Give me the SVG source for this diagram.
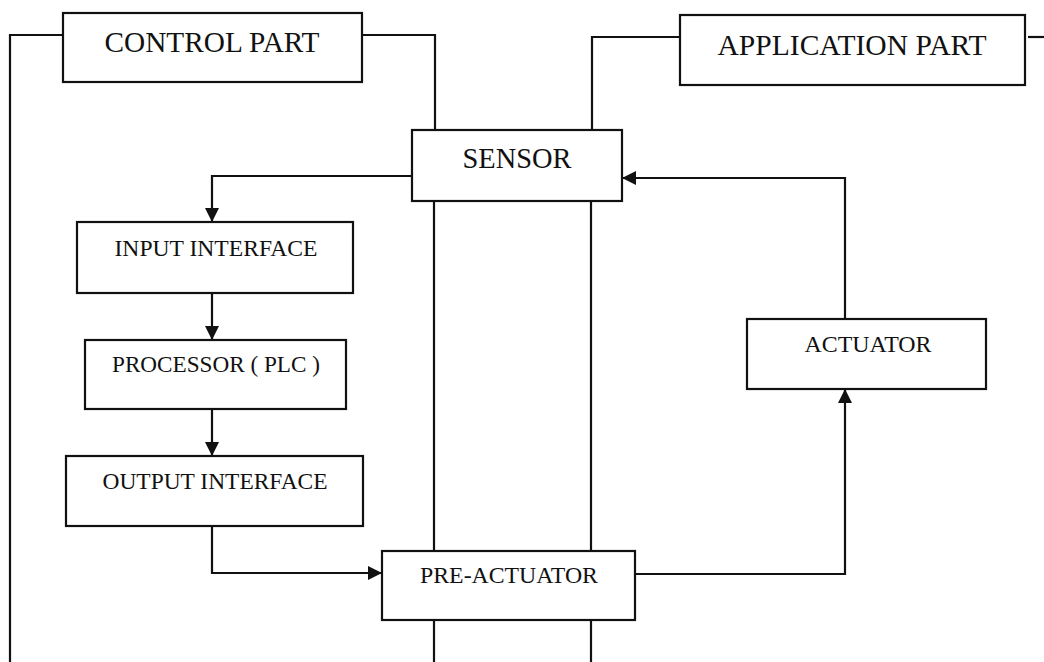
<svg xmlns="http://www.w3.org/2000/svg" width="1044" height="662" viewBox="0 0 1044 662">
  <defs>
    <marker id="arr" viewBox="0 0 12 12" refX="12" refY="6" markerWidth="15" markerHeight="14" markerUnits="userSpaceOnUse" orient="auto">
      <path d="M0,0 L12,6 L0,12 Z" fill="#111"/>
    </marker>
    <style>
      .box { fill: #fff; stroke: #111; stroke-width: 2.2; }
      .ln { fill: none; stroke: #111; stroke-width: 2.2; }
      .big { font-family: "Liberation Serif", "Times New Roman", serif; font-size: 30px; fill: #111; text-anchor: middle; }
      .sm { font-family: "Liberation Serif", "Times New Roman", serif; font-size: 23px; fill: #111; text-anchor: middle; }
    </style>
  </defs>
  <rect width="1044" height="662" fill="#fff"/>

  <g id="connectors">
    <path class="ln" d="M63,35 H10 V662"/>
    <path class="ln" d="M362,35 H435 V130"/>
    <path class="ln" d="M680,37 H592 V130"/>
    <path class="ln" d="M1028,37 H1044"/>
    <path class="ln" d="M434,201 V551"/>
    <path class="ln" d="M591,201 V551"/>
    <path class="ln" d="M434,620 V662"/>
    <path class="ln" d="M591,620 V662"/>
    <path class="ln" d="M412,176 H212 V222" marker-end="url(#arr)"/>
    <path class="ln" d="M212,293 V340" marker-end="url(#arr)"/>
    <path class="ln" d="M212,409 V456" marker-end="url(#arr)"/>
    <path class="ln" d="M212,526 V573 H382" marker-end="url(#arr)"/>
    <path class="ln" d="M635,574 H845 V389" marker-end="url(#arr)"/>
    <path class="ln" d="M845,319 V178 H622" marker-end="url(#arr)"/>
  </g>

  <g id="control-part">
    <rect class="box" x="63" y="13" width="299" height="69"/>
    <text class="big" x="212" y="52" textLength="215" lengthAdjust="spacingAndGlyphs">CONTROL PART</text>
  </g>
  <g id="application-part">
    <rect class="box" x="680" y="15" width="345" height="70"/>
    <text class="big" x="852" y="55" textLength="269" lengthAdjust="spacingAndGlyphs">APPLICATION PART</text>
  </g>
  <g id="sensor">
    <rect class="box" x="412" y="130" width="210" height="71"/>
    <text class="big" x="517" y="168" textLength="109" lengthAdjust="spacingAndGlyphs">SENSOR</text>
  </g>
  <g id="input-interface">
    <rect class="box" x="77" y="222" width="276" height="71"/>
    <text class="sm" x="216" y="256" textLength="203" lengthAdjust="spacingAndGlyphs">INPUT INTERFACE</text>
  </g>
  <g id="processor">
    <rect class="box" x="85" y="340" width="261" height="69"/>
    <text class="sm" x="216" y="372" textLength="208" lengthAdjust="spacingAndGlyphs">PROCESSOR ( PLC )</text>
  </g>
  <g id="output-interface">
    <rect class="box" x="66" y="456" width="297" height="70"/>
    <text class="sm" x="215" y="489" textLength="225" lengthAdjust="spacingAndGlyphs">OUTPUT INTERFACE</text>
  </g>
  <g id="pre-actuator">
    <rect class="box" x="382" y="551" width="253" height="69"/>
    <text class="sm" x="509" y="583" textLength="178" lengthAdjust="spacingAndGlyphs">PRE-ACTUATOR</text>
  </g>
  <g id="actuator">
    <rect class="box" x="747" y="319" width="239" height="70"/>
    <text class="sm" x="868" y="352" textLength="127" lengthAdjust="spacingAndGlyphs">ACTUATOR</text>
  </g>
</svg>
